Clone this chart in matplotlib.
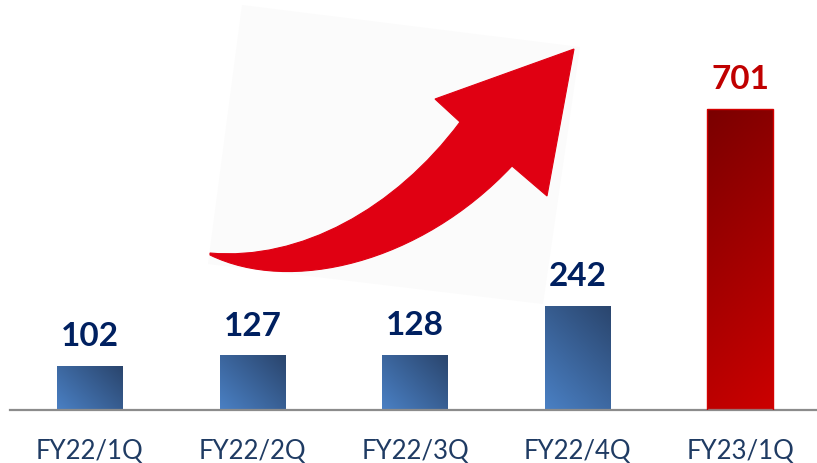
import matplotlib
matplotlib.use("Agg")
import matplotlib.pyplot as plt
import numpy as np
from matplotlib.colors import LinearSegmentedColormap
from matplotlib.patches import Polygon, PathPatch
from matplotlib.path import Path

quarters = ["FY22/1Q", "FY22/2Q", "FY22/3Q", "FY22/4Q", "FY23/1Q"]
values = [102, 127, 128, 242, 701]
highlight = [False, False, False, False, True]

W, H = 817, 464
fig = plt.figure(figsize=(W / 100, H / 100), dpi=100)
fig.patch.set_facecolor("white")

# decoration layer in pixel coords (rotated card with red arrow)
deco = fig.add_axes([0, 0, 1, 1], zorder=0)
deco.set_xlim(0, W)
deco.set_ylim(H, 0)
deco.axis("off")
card = [(242, 6), (580, 48), (543, 305), (208, 265)]
deco.add_patch(Polygon(card, closed=True, facecolor="#fbfbfb", edgecolor="none"))

verts = [(210, 256), (290, 295), (420, 265), (512, 167),   # lower edge
         (547, 197), (574, 50), (435, 100), (460, 123),    # head
         (395, 210), (300, 262), (210, 254),               # upper edge
         (210, 256)]
codes = [Path.MOVETO, Path.CURVE4, Path.CURVE4, Path.CURVE4,
         Path.LINETO, Path.LINETO, Path.LINETO, Path.LINETO,
         Path.CURVE4, Path.CURVE4, Path.CURVE4,
         Path.CLOSEPOLY]
deco.add_patch(PathPatch(Path(verts, codes), facecolor="#e00012",
                         edgecolor="#e00012", lw=0.8))

# main chart
step = 162.6
ppu = 0.43  # pixels per unit
ax = fig.add_axes([10 / W, 53 / H, 807 / W, 411 / H], zorder=1)
ax.patch.set_alpha(0)
x = np.arange(len(values))
ax.set_xlim(-80 / step, 727 / step)
ax.set_ylim(0, 411 / ppu)
bw = 66 / step

blue = LinearSegmentedColormap.from_list("b", ["#4a80c4", "#2a456d"])
red = LinearSegmentedColormap.from_list("r", ["#7a0000", "#cc0000"])

bars = ax.bar(x, values, width=bw, color="none", edgecolor="none")
for b, v, hi in zip(bars, values, highlight):
    wp, hp = bw * step, v * ppu
    u = np.linspace(0, 1, 60)[None, :]
    t = np.linspace(0, 1, 200)[:, None]  # row 0 = bottom with origin lower
    if hi:
        g = (u * wp + (1 - t) * hp) / (wp + hp)
        cm = red
    else:
        g = (u * wp + t * hp) / (wp + hp)
        cm = blue
    x0 = b.get_x()
    im = ax.imshow(g, cmap=cm, extent=(x0, x0 + bw, 0, v), origin="lower",
                   aspect="auto", vmin=0, vmax=1, zorder=2)
    im.set_clip_path(b)
    if hi:
        ax.bar(b.get_x() + bw / 2, v, width=bw, color="none",
               edgecolor="#d40000", lw=1.0, zorder=3)
    ax.annotate(str(v), (b.get_x() + bw / 2, v), xytext=(0, 15),
                textcoords="offset points", ha="center", va="baseline",
                fontsize=24, fontweight="bold", family="Lato",
                color="#c00000" if hi else "#002060")

for s in ["top", "right", "left"]:
    ax.spines[s].set_visible(False)
ax.spines["bottom"].set_color("#8c8c8c")
ax.spines["bottom"].set_linewidth(1.6)
ax.set_yticks([])
ax.set_xticks(x)
ax.set_xticklabels(quarters, fontsize=18.5, family="Lato", color="#1f3b63")
ax.tick_params(axis="x", length=0, pad=20)

fig.savefig("out.png", dpi=100)
